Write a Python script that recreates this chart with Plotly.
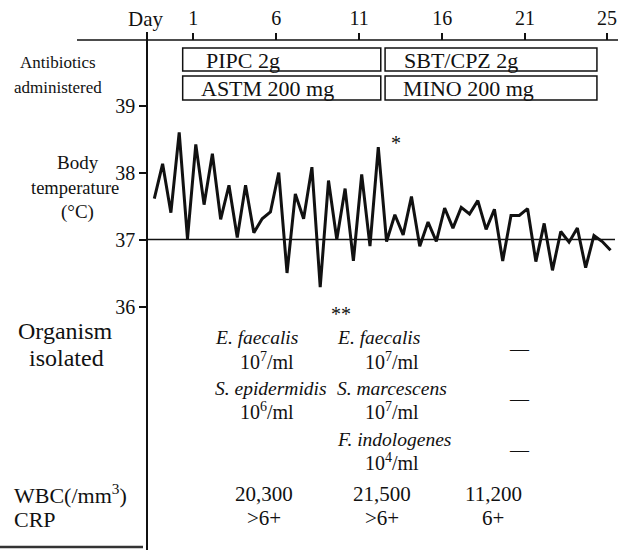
import plotly.graph_objects as go

W, H = 618, 550

# ---------------- data ----------------
# body temperature (deg C), two readings per day
temps = [37.61, 38.13, 37.40, 38.60, 37.01, 38.42, 37.52, 38.28, 37.30, 37.81,
         37.03, 37.81, 37.10, 37.31, 37.41, 38.00, 36.50, 37.68, 37.31, 38.08,
         36.29, 37.88, 37.00, 37.76, 36.68, 37.97, 36.90, 38.38, 36.97, 37.37,
         37.07, 37.64, 36.90, 37.26, 36.97, 37.47, 37.17, 37.48, 37.38, 37.58,
         37.15, 37.45, 36.68, 37.36, 37.36, 37.46, 36.67, 37.24, 36.54, 37.12,
         36.96, 37.17, 36.58, 37.06, 36.97, 36.84]
first_reading_day = -1.35
reading_step = 0.5
times = [first_reading_day + reading_step * i for i in range(len(temps))]

tick_days = ["1", "6", "11", "16", "21", "25"]
tick_pos = [1, 6, 11, 16, 21, 25.94]   # last label drawn at the end of the record, as in the original
temp_ticks = [36, 37, 38, 39]

# antibiotics
regimen_row1 = ["PIPC 2g", "SBT/CPZ 2g"]
regimen_row2 = ["ASTM 200 mg", "MINO 200 mg"]
regimen_start = [0.36, 12.56]
regimen_end = [12.30, 25.33]

# organisms isolated
org_col1 = ["E. faecalis", "S. epidermidis"]
cnt_col1 = ["10<sup>7</sup>/ml", "10<sup>6</sup>/ml"]
org_col2 = ["E. faecalis", "S. marcescens", "F. indologenes"]
cnt_col2 = ["10<sup>7</sup>/ml", "10<sup>7</sup>/ml", "10<sup>4</sup>/ml"]
org_col3 = ["—", "—", "—"]

wbc = ["20,300", "21,500", "11,200"]
crp = [">6+", ">6+", "6+"]

# ---------------- layout helpers ----------------
PX_DAY1 = 193.3
PX_PER_DAY = 16.59
x_lo = 1 - PX_DAY1 / PX_PER_DAY
x_hi = 1 + (W - PX_DAY1) / PX_PER_DAY

Y37 = 239.5
PX_PER_DEG = 67.0
AX_TOP = 32
y_top = 37 + (Y37 - AX_TOP) / PX_PER_DEG
y_bot = 37 - (H - Y37) / PX_PER_DEG


def fx(px):
    return px / W


def fy(py):
    return 1 - py / H


SERIF = "Liberation Serif, Times New Roman, serif"
BLACK = "#111111"

fig = go.Figure()
fig.add_trace(go.Scatter(x=times, y=temps, mode="lines",
                         line=dict(color=BLACK, width=3), hoverinfo="skip",
                         showlegend=False))

ann = []


def text(t, x, y, size, xanchor="center"):
    ann.append(dict(text=t, x=fx(x), y=fy(y), xref="paper", yref="paper",
                    showarrow=False, xanchor=xanchor, yanchor="middle",
                    font=dict(size=size, family=SERIF, color=BLACK)))


# left labels
text("Day", 145, 19, 21)
text("Antibiotics", 58, 63, 17)
text("administered", 58, 87, 17)
text("Body", 78, 162, 19)
text("temperature", 75, 188, 18.5)
text("(°C)", 77, 212, 19)
text("Organism", 65, 331, 24)
text("isolated", 66, 358, 24)
text("WBC(/mm<sup>3</sup>)", 12, 494, 22, xanchor="left")
text("CRP", 12, 519, 22, xanchor="left")

# regimen boxes
rows = [(48, 71, regimen_row1, [204, 402]), (76, 100, regimen_row2, [199, 401])]
shapes = []
for (y0, y1, labels, lx) in rows:
    for i in range(len(labels)):
        shapes.append(dict(type="rect", xref="x", yref="paper",
                           x0=regimen_start[i], x1=regimen_end[i],
                           y0=fy(y1), y1=fy(y0),
                           line=dict(color=BLACK, width=1.5)))
        text(labels[i], lx[i], (y0 + y1) / 2 + 0.5, 22, xanchor="left")

# organisms
col1_y = [337, 388]
cnt1_y = [361, 411]
for i in range(len(org_col1)):
    text("<i>" + org_col1[i] + "</i>", 213, col1_y[i], 19.5, "left")
    text(cnt_col1[i], 238, cnt1_y[i], 20, "left")
col2_y = [337, 388, 439]
cnt2_y = [361, 411, 462]
for i in range(len(org_col2)):
    text("<i>" + org_col2[i] + "</i>", 335, col2_y[i], 19.5, "left")
    text(cnt_col2[i], 363, cnt2_y[i], 20, "left")
dash_y = [348, 398, 449]
for i in range(len(org_col3)):
    text(org_col3[i], 519, dash_y[i], 19)

# WBC / CRP
lab_x = [264, 382, 493]
for i in range(len(wbc)):
    text(wbc[i], lab_x[i], 494, 21)
    text(crp[i], lab_x[i], 518, 21)

# asterisks
text("*", 396, 143, 20)
text("**", 341, 314, 20)

# lines
shapes += [
    dict(type="line", xref="paper", yref="paper", x0=fx(77), x1=fx(618),
         y0=fy(40), y1=fy(40), line=dict(color=BLACK, width=1.5)),
    dict(type="line", xref="paper", yref="y", x0=fx(147), x1=fx(615),
         y0=37, y1=37, line=dict(color=BLACK, width=1.5)),
    dict(type="line", xref="paper", yref="paper", x0=0, x1=fx(143),
         y0=fy(547), y1=fy(547), line=dict(color="#333333", width=2.5)),
]

fig.update_layout(
    width=W, height=H, autosize=False,
    margin=dict(l=0, r=0, t=0, b=0),
    paper_bgcolor="white", plot_bgcolor="white",
    showlegend=False,
    annotations=ann, shapes=shapes,
    xaxis=dict(range=[x_lo, x_hi], domain=[0, 1], side="top", anchor="free",
               position=fy(40), tickmode="array", tickvals=tick_pos,
               ticktext=tick_days, ticks="outside", ticklen=7, tickwidth=1.5,
               tickcolor=BLACK, showline=False, showgrid=False, zeroline=False,
               tickfont=dict(family=SERIF, size=20, color=BLACK)),
    yaxis=dict(range=[y_bot, y_top], domain=[0, fy(AX_TOP)], anchor="free",
               position=fx(147), tickmode="array", tickvals=temp_ticks,
               ticks="outside", ticklen=7, tickwidth=1.5, tickcolor=BLACK,
               showline=True, linecolor=BLACK, linewidth=1.5,
               showgrid=False, zeroline=False,
               tickfont=dict(family=SERIF, size=20, color=BLACK)),
)

fig.write_html("out.html", config={"displayModeBar": False},
               post_script="document.body.style.margin='0';document.body.style.padding='0';")
